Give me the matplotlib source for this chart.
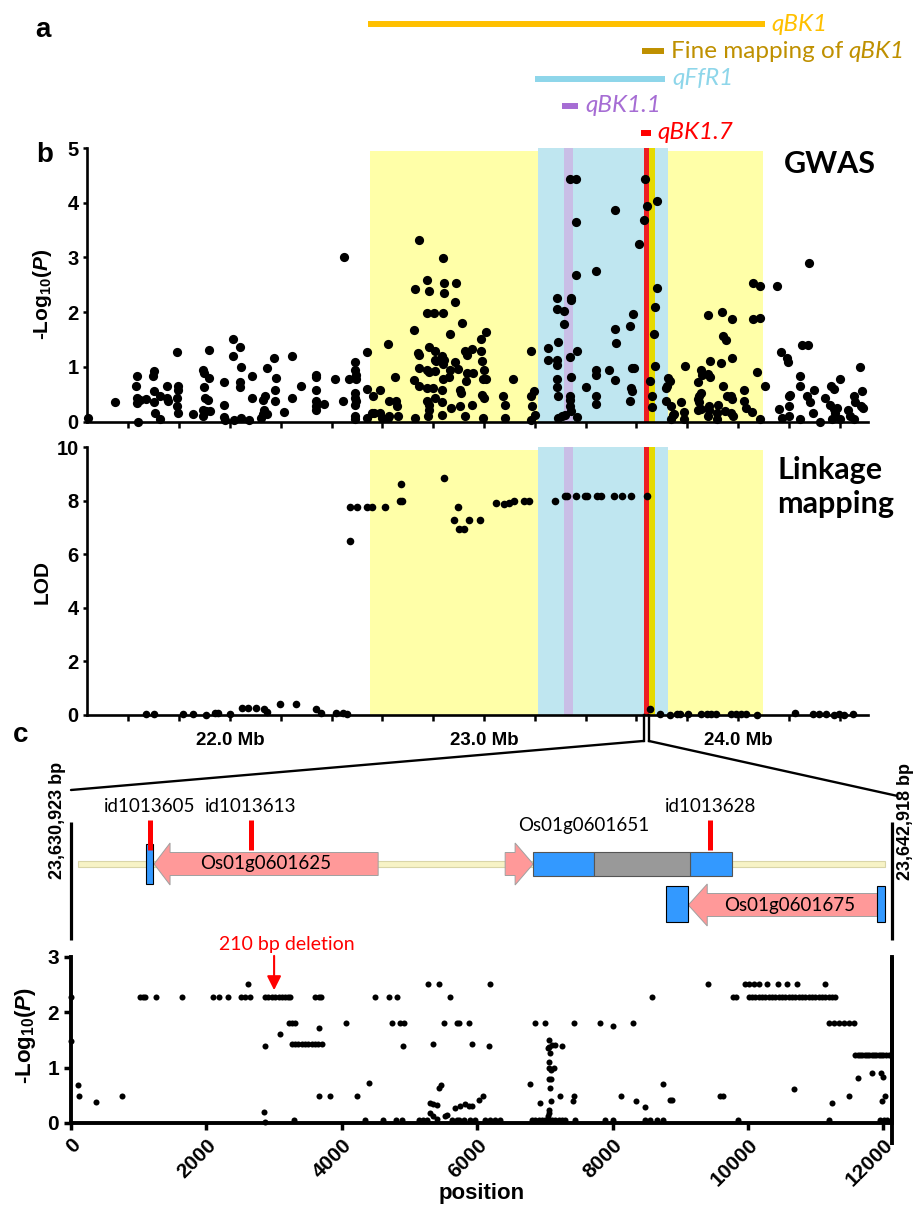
import numpy as np
import matplotlib
matplotlib.use("Agg")
import matplotlib.pyplot as plt
from matplotlib.patches import Rectangle, Polygon, ConnectionPatch

W, H = 919, 1207
plt.rcParams.update({
    "font.family": ["Liberation Sans", "DejaVu Sans"],
    "font.weight": "bold",
    "axes.labelweight": "bold",
    "mathtext.fontset": "custom",
    "mathtext.rm": "Liberation Sans:bold",
    "mathtext.it": "Liberation Sans:italic:bold",
    "mathtext.bf": "Liberation Sans:bold",
    "axes.linewidth": 1.9,
})
CAL = ["Lato", "DejaVu Sans"]

# ---------------- data ----------------
# panel a : QTL intervals (Mb)
bar_labels = ["qBK1", "qBK1", "qFfR1", "qBK1.1", "qBK1.7"]
bar_prefix = ["", "Fine mapping of", "", "", ""]
bar_start = [22.543, 23.622, 23.201, 23.307, 23.618]
bar_end = [24.106, 23.709, 23.713, 23.370, 23.657]
bar_colors = ["#FFC000", "#BF9000", "#8ED6EA", "#A66DD4", "#FF0000"]

# shaded regions in panel b (Mb)
region_names = ["qBK1", "qFfR1", "qBK1.1", "qBK1.7", "fine mapping"]
region_start = [22.553, 23.211, 23.315, 23.628, 23.649]
region_end = [24.100, 23.725, 23.352, 23.649, 23.675]
region_colors = ["#FFFFA8", "#BFE6F0", "#C9BEE6", "#EE1D23", "#E6DA00"]
region_top = [0.99, 1.0, 1.0, 1.0, 1.0]

# GWAS (Mb, -log10 P)
gwas_mb_1 = [21.439, 21.546, 21.634, 21.631, 21.634, 21.634, 21.644, 21.639, 21.668, 21.699,
             21.697, 21.701, 21.701, 21.706, 21.723, 21.723, 21.752, 21.752, 21.756, 21.791,
             21.795, 21.795, 21.791, 21.792, 21.795, 21.854, 21.893, 21.899, 21.919, 21.916,
             21.899, 21.902, 21.912, 21.895, 21.906, 21.922, 21.895, 21.976, 21.976, 21.976,
             21.979, 22.010, 22.010, 22.039, 22.044, 22.041, 22.041, 22.014, 22.043, 22.076,
             22.086, 22.086, 22.123, 22.128, 22.131, 22.139, 22.144, 22.135, 22.144, 22.174,
             22.180, 22.178, 22.178, 22.213, 22.246, 22.246, 22.278, 22.337, 22.337, 22.340,
             22.337, 22.337, 22.337, 22.370, 22.413, 22.448, 22.446, 22.468, 22.494, 22.494,
             22.498, 22.498, 22.494, 22.494, 22.498, 22.494, 22.494, 22.494, 22.540, 22.540,
             22.540, 22.559]
gwas_p_1 = [0.06, 0.355, 0.838, 0.643, 0.428, 0.337, 0.398, 0.0, 0.41, 0.918,
            0.838, 0.551, 0.355, 0.153, 0.459, 0.043, 0.655, 0.428, 0.367, 1.273,
            0.643, 0.581, 0.428, 0.275, 0.153, 0.141, 0.949, 0.887, 1.316, 0.796,
            0.63, 0.428, 0.398, 0.214, 0.184, 0.184, 0.104, 0.722, 0.306, 0.08,
            0.03, 1.5, 1.206, 1.359, 0.991, 0.716, 0.63, 0.03, 0.06, 0.03,
            0.838, 0.428, 0.06, 0.141, 0.398, 0.459, 0.973, 0.214, 0.141, 1.157,
            0.796, 0.581, 0.367, 0.165, 1.193, 0.428, 0.643, 0.857, 0.808, 0.569,
            0.367, 0.275, 0.214, 0.324, 0.777, 2.999, 0.379, 0.777, 1.083, 0.949,
            0.857, 0.777, 0.52, 0.428, 0.367, 0.306, 0.104, 0.043, 1.267, 0.594,
            0.061, 0.153]
gwas_mb_2 = [22.562, 22.592, 22.566, 22.592, 22.599, 22.622, 22.625, 22.622, 22.625, 22.648,
             22.654, 22.658, 22.661, 22.727, 22.723, 22.729, 22.745, 22.742, 22.746, 22.745,
             22.723, 22.745, 22.775, 22.782, 22.775, 22.782, 22.775, 22.782, 22.775, 22.775,
             22.782, 22.782, 22.779, 22.805, 22.808, 22.808, 22.810, 22.808, 22.801, 22.808,
             22.838, 22.841, 22.841, 22.837, 22.835, 22.841, 22.837, 22.837, 22.835, 22.835,
             22.835, 22.889, 22.884, 22.867, 22.884, 22.867, 22.863, 22.871, 22.912, 22.899,
             22.906, 22.910, 22.906, 22.925, 22.932, 22.952, 22.932, 22.928, 22.925, 22.958,
             22.954, 22.988, 23.007, 22.988, 22.993, 23.001, 22.997, 23.007, 22.993, 23.001,
             22.997, 23.076, 23.082, 23.082, 23.115, 23.187, 23.184, 23.197, 23.190, 23.200,
             23.187, 23.250, 23.250, 23.289, 23.289, 23.315, 23.315, 23.292, 23.289, 23.286,
             23.286, 23.286, 23.292, 23.292, 23.307, 23.318, 23.337, 23.363, 23.341, 23.344,
             23.363, 23.363, 23.337, 23.344, 23.337, 23.337, 23.337, 23.341, 23.367, 23.367,
             23.403, 23.441, 23.442, 23.441, 23.442, 23.441, 23.494, 23.514, 23.514, 23.520,
             23.516, 23.586, 23.576, 23.582, 23.590, 23.579, 23.582, 23.573, 23.612, 23.634,
             23.642, 23.631, 23.681, 23.681, 23.675, 23.671, 23.673, 23.655, 23.660, 23.660,
             23.725, 23.733, 23.716, 23.720, 23.716, 23.736, 23.746]
gwas_p_2 = [0.459, 0.581, 0.153, 0.153, 0.061, 0.061, 0.104, 1.42, 0.367, 0.814,
            0.367, 0.275, 0.104, 2.417, 1.671, 0.061, 3.323, 1.255, 1.224, 0.979,
            0.753, 0.655, 2.589, 2.387, 1.989, 1.365, 0.949, 0.9, 0.612, 0.367,
            0.306, 0.202, 0.092, 1.989, 1.285, 1.132, 1.102, 0.918, 0.612, 0.428,
            2.98, 2.528, 2.344, 1.989, 1.193, 1.132, 1.059, 0.777, 0.581, 0.349,
            0.122, 2.528, 2.191, 1.591, 1.089, 0.936, 0.814, 0.245, 1.805, 0.961,
            0.581, 0.52, 0.288, 1.285, 1.224, 1.328, 0.887, 0.734, 0.104, 0.887,
            0.306, 1.512, 1.634, 1.285, 1.102, 0.949, 0.777, 0.777, 0.49, 0.428,
            0.061, 0.471, 0.306, 0.061, 0.777, 1.297, 0.471, 0.551, 0.275, 0.122,
            0.031, 1.346, 1.12, 2.264, 2.05, 2.02, 1.787, 1.45, 1.12, 1.04,
            0.777, 0.63, 0.471, 0.061, 0.092, 0.122, 4.437, 4.437, 2.264, 2.215,
            3.641, 2.674, 1.181, 0.814, 0.459, 0.398, 0.275, 0.184, 1.285, 0.08,
            0.63, 2.754, 0.936, 0.857, 0.471, 0.324, 0.936, 3.868, 1.695, 1.426,
            0.753, 1.958, 1.744, 0.979, 0.979, 0.612, 0.551, 0.367, 3.244, 4.425,
            3.935, 3.69, 4.027, 2.436, 2.093, 1.603, 1.022, 0.734, 0.471, 0.257,
            0.796, 0.734, 0.612, 0.655, 0.367, 0.275, 0.122]
gwas_mb_3 = [23.749, 23.736, 23.775, 23.791, 23.788, 23.788, 23.841, 23.847, 23.854, 23.860,
             23.856, 23.841, 23.847, 23.841, 23.854, 23.882, 23.882, 23.890, 23.890, 23.886,
             23.886, 23.880, 23.922, 23.919, 23.916, 23.937, 23.935, 23.939, 23.942, 23.952,
             23.948, 23.956, 23.971, 23.978, 23.978, 23.978, 23.974, 23.982, 24.024, 24.024,
             24.030, 24.056, 24.060, 24.085, 24.060, 24.086, 24.076, 24.086, 24.108, 24.154,
             24.161, 24.170, 24.191, 24.197, 24.174, 24.200, 24.200, 24.204, 24.200, 24.246,
             24.246, 24.252, 24.275, 24.278, 24.272, 24.285, 24.298, 24.295, 24.246, 24.322,
             24.344, 24.366, 24.376, 24.361, 24.376, 24.390, 24.383, 24.370, 24.403, 24.403,
             24.435, 24.439, 24.455, 24.462, 24.455, 24.481, 24.488, 24.484, 24.492]
gwas_p_3 = [0.141, 0.043, 0.349, 1.022, 0.165, 0.043, 0.716, 0.459, 0.949, 0.857,
            0.52, 0.41, 0.349, 0.202, 0.226, 1.94, 0.875, 0.814, 1.114, 0.275,
            0.214, 0.092, 0.306, 0.043, 0.153, 2.001, 1.071, 0.655, 1.561, 1.499,
            0.184, 0.471, 0.459, 1.867, 1.163, 0.41, 0.153, 0.092, 0.569, 0.367,
            0.245, 0.165, 2.528, 2.479, 1.867, 1.897, 0.906, 0.043, 0.643, 2.479,
            0.226, 1.267, 1.163, 1.083, 0.061, 0.092, 0.471, 0.49, 0.288, 0.838,
            0.655, 1.395, 1.395, 2.889, 0.471, 0.349, 0.569, 0.153, 0.043, 0.0,
            0.428, 0.655, 0.594, 0.306, 0.226, 0.245, 0.153, 0.043, 0.043, 0.777,
            0.214, 0.092, 0.459, 0.349, 0.043, 0.991, 0.551, 0.275, 0.245]

# Linkage mapping (Mb, LOD)
lod_mb = [21.671, 21.702, 21.814, 21.856, 21.906, 21.941, 21.954, 22.000, 22.046, 22.072,
          22.102, 22.133, 22.146, 22.196, 22.261, 22.340, 22.359, 22.418, 22.444, 22.460,
          22.471, 22.473, 22.499, 22.539, 22.559, 22.612, 22.669, 22.677, 22.675, 22.843,
          22.898, 22.882, 22.902, 22.922, 22.939, 22.983,
          23.046, 23.078, 23.098, 23.118, 23.157, 23.176, 23.281, 23.318, 23.327, 23.362,
          23.396, 23.405, 23.444, 23.461, 23.510, 23.542, 23.579, 23.641, 23.654, 23.693,
          23.732, 23.758, 23.771, 23.804, 23.856, 23.876, 23.895, 23.915, 23.974, 23.993,
          24.013, 24.033, 24.076, 24.225, 24.294, 24.320, 24.346, 24.379, 24.399, 24.418,
          24.451]
lod_val = [0.04, 0.04, 0.04, 0.04, 0.0, 0.06, 0.06, 0.04, 0.25, 0.25,
           0.25, 0.21, 0.12, 0.40, 0.40, 0.22, 0.06, 0.06, 0.06, 0.04,
           6.51, 7.76, 7.76, 7.76, 7.76, 7.76, 8.01, 8.01, 8.62, 8.84,
           7.78, 7.29, 6.95, 6.95, 7.29, 7.29,
           7.91, 7.88, 7.93, 8.00, 8.00, 8.00, 8.00, 8.18, 8.18, 8.18,
           8.18, 8.18, 8.18, 8.18, 8.18, 8.18, 8.18, 8.18, 0.21, 0.04,
           0.0, 0.04, 0.04, 0.04, 0.04, 0.04, 0.04, 0.04, 0.04, 0.04,
           0.04, 0.04, 0.0, 0.06, 0.04, 0.04, 0.04, 0.0, 0.04, 0.0,
           0.04]

# panel c association (bp position, -log10 P)
pos_1 = [0, 0, 98, 123, 374, 753, 1023, 1063, 1097, 1260,
         1638, 2091, 2180, 2312, 2509, 2573, 2647, 2608, 2868, 2917,
         2966, 3015, 3065, 3114, 3163, 3212, 3237, 2868, 2844, 2868,
         3090, 3213, 3262, 3311, 3262, 3311, 3360, 3409, 3458, 3508,
         3557, 3606, 3655, 3705, 3287, 3606, 3656, 3690, 3670, 3670,
         3828, 4064, 4231, 4344, 4408, 4492, 4605, 4704, 4822, 4738,
         4861, 4920, 4802, 4885, 4900, 5146, 5196, 5255, 5269, 5442,
         5353, 5304, 5353, 5402, 5442, 5461, 5304, 5353, 5402, 5525,
         5560, 5599, 5510, 5697, 5673, 5624, 5697]
p_1 = [2.27, 1.49, 0.69, 0.48, 0.38, 0.48, 2.27, 2.27, 2.27, 2.27,
       2.27, 2.27, 2.27, 2.27, 2.27, 2.27, 2.27, 2.52, 2.27, 2.27,
       2.27, 2.27, 2.27, 2.27, 2.27, 2.27, 2.27, 1.40, 0.20, 0.02,
       1.61, 1.81, 1.81, 1.81, 1.43, 1.43, 1.43, 1.43, 1.43, 1.43,
       1.43, 1.43, 1.43, 1.43, 0.06, 2.27, 2.27, 2.27, 1.71, 0.48,
       0.48, 1.81, 0.48, 0.06, 0.72, 2.27, 0.06, 2.27, 2.27, 1.81,
       1.81, 1.81, 0.06, 0.06, 1.40, 0.06, 0.06, 0.06, 2.52, 2.52,
       1.43, 0.36, 0.35, 0.33, 0.63, 0.69, 0.18, 0.12, 0.07, 0.12,
       0.15, 2.27, 1.81, 1.81, 0.28, 0.06, 0.06]
pos_2 = [5724, 5872, 5921, 6192, 6177, 5749, 5823, 5872, 5921, 6020,
         6079, 5724, 5798, 5897, 5970, 6118, 6192, 6266, 6340, 6847,
         6995, 7424, 7818, 8000, 8296, 8581, 9409, 9773, 9823, 9961,
         10020, 10084, 10158, 10281, 10443, 10576, 10724, 11143, 11626, 11832,
         11970, 11990, 11488, 11241, 10675, 9591, 9626, 8739, 8852, 8877,
         8128, 8345, 8483, 7424, 7409, 7227, 6931, 6783, 7054, 7064,
         7104, 7153, 7251, 7044, 7079, 7054, 7064, 7128, 7094, 7054,
         7094, 7079, 7094, 7064, 7054, 7044, 6808, 6857, 6906, 6955,
         7005, 7054, 7103, 7153, 7202, 7251, 7300, 7449, 7892, 8000,
         8483, 8557, 8655, 8739, 9852, 11202, 11955, 12005, 12054, 12020,
         11980]
p_2 = [1.81, 1.81, 1.43, 2.52, 1.40, 0.30, 0.35, 0.30, 0.30, 0.41,
       0.48, 0.06, 0.06, 0.06, 0.06, 0.06, 0.06, 0.06, 0.06, 1.81,
       1.81, 1.81, 1.81, 1.75, 1.81, 2.27, 2.52, 2.27, 2.27, 2.52,
       2.52, 2.52, 2.52, 2.52, 2.52, 2.52, 2.52, 2.52, 0.81, 0.91,
       0.91, 0.83, 0.48, 0.37, 0.61, 0.48, 0.48, 0.71, 0.42, 0.42,
       0.48, 0.39, 0.29, 0.48, 0.39, 0.48, 0.36, 0.71, 1.50, 1.38,
       1.41, 1.41, 1.40, 1.35, 1.27, 1.11, 0.99, 0.99, 0.95, 0.79,
       0.79, 0.63, 0.39, 0.24, 0.18, 0.12, 0.06, 0.06, 0.06, 0.06,
       0.06, 0.06, 0.06, 0.06, 0.06, 0.06, 0.06, 0.06, 0.06, 0.06,
       0.06, 0.06, 0.06, 0.06, 0.06, 0.06, 0.06, 0.06, 0.06, 0.48,
       0.39]
pos_3 = [10010, 10059, 10108, 10158, 10207, 10256, 10305, 10355, 10404, 10453,
         10502, 10552, 10601, 10650, 10699, 10749, 10798, 10847, 10896, 10946,
         10995, 11044, 11093, 11143, 11192, 11241, 11290]
p_3 = [2.27] * 27
pos_4 = [11192, 11266, 11340, 11414, 11488, 11561]
p_4 = [1.81] * 6
pos_5 = [11586, 11620, 11655, 11689, 11724, 11758, 11793, 11827, 11862, 11896,
         11931, 11965, 12000, 12034, 12079]
p_5 = [1.23] * 15

# gene models (bp from 23,630,923)
gene_names = ["Os01g0601625", "Os01g0601651", "Os01g0601675"]
gene_tail = [4537, 6413, 11911]
gene_tip = [1227, 6827, 9118]
gene_track = [0, 0, 1]
exon_start = [1108, 6827, 9147, 8793, 11911]
exon_end = [1212, 7729, 9768, 9118, 12029]
exon_track = [0, 0, 0, 1, 1]
grey_start, grey_end = 7729, 9147
snp_names = ["id1013605", "id1013613", "id1013628"]
snp_pos = [1167, 2660, 9443]
deletion_pos = 3000
backbone = (103, 12029)
region_bp_labels = ["23,630,923 bp", "23,642,918 bp"]

# ---------------- figure ----------------
fig = plt.figure(figsize=(W / 100, H / 100), dpi=100)


def add_ax(l, t, r, b):
    return fig.add_axes([l / W, 1 - b / H, (r - l) / W, (b - t) / H])


MB_LIM = (21.437, 24.51)
mb_l = 230 - (22 - MB_LIM[0]) * 254
mb_r = mb_l + (MB_LIM[1] - MB_LIM[0]) * 254
BP_LIM = (0, 12120)
bp_l = 71
bp_r = bp_l + BP_LIM[1] * 0.0677

ax_a = add_ax(mb_l, 10.4, mb_r, 146.6)
ax_g = add_ax(mb_l, 148, mb_r, 421.5)
ax_l = add_ax(mb_l, 447.3, mb_r, 715)
ax_gene = add_ax(bp_l, 760, bp_r, 945)
ax_s = add_ax(bp_l, 957, bp_r, 1123)

# ---- panel a
ax_a.set_xlim(MB_LIM)
ax_a.set_ylim(4.5, -0.5)
ax_a.axis("off")
for i, (s, e, c, lab, pre) in enumerate(zip(bar_start, bar_end, bar_colors, bar_labels, bar_prefix)):
    ax_a.hlines(i, s, e, color=c, lw=4.3)
    if pre:
        t1 = ax_a.annotate(pre, xy=(e, i), xytext=(5, 0), textcoords="offset points",
                           va="center", ha="left", color=c, family=CAL, weight="normal",
                           fontsize=17.5)
        ax_a.annotate(lab, xy=(1, 0), xycoords=t1, xytext=(4, 0), textcoords="offset points",
                      va="bottom", ha="left", color=c, family=CAL, weight="normal",
                      style="italic", fontsize=17.5)
    else:
        ax_a.annotate(lab, xy=(e, i), xytext=(5, 0), textcoords="offset points",
                      va="center", ha="left", color=c, family=CAL, weight="normal",
                      style="italic", fontsize=17.5)

# ---- panel b
ticks_mb = np.round(np.arange(21.6, 24.41, 0.2), 1)
for ax in (ax_g, ax_l):
    ax.set_xlim(MB_LIM)
    for s, e, c, top in zip(region_start, region_end, region_colors, region_top):
        ax.axvspan(s, e, ymin=0, ymax=top, color=c, lw=0, zorder=0)
    ax.spines[["top", "right"]].set_visible(False)
    ax.set_xticks(ticks_mb)
    ax.tick_params(axis="x", direction="out", length=4, width=1.8, labelsize=13.5, pad=8)
    ax.tick_params(axis="y", direction="out", length=3, width=1.8, labelsize=14.5, pad=3)

ax_g.set_ylim(0, 5)
ax_g.set_yticks(range(6))
ax_g.set_xticklabels([])
ax_g.scatter(gwas_mb_1 + gwas_mb_2 + gwas_mb_3, gwas_p_1 + gwas_p_2 + gwas_p_3,
             s=44, c="k", lw=0, zorder=3, clip_on=False)

ax_l.set_ylim(0, 10)
ax_l.set_yticks(range(0, 11, 2))
ax_l.set_xticklabels([f"{t:.1f} Mb" if abs(t - round(t)) < 1e-6 else "" for t in ticks_mb])
ax_l.scatter(lod_mb, lod_val, s=30, c="k", lw=0, zorder=3, clip_on=False)

fig.text(42 / W, 1 - 294 / H, r"-Log$_{10}$($P$)", rotation=90, ha="center", va="center", fontsize=15)
fig.text(42 / W, 1 - 582 / H, "LOD", rotation=90, ha="center", va="center", fontsize=15)
fig.text(784 / W, 1 - 164 / H, "GWAS", ha="left", va="center", family=CAL, fontsize=22)
fig.text(777 / W, 1 - 487 / H, "Linkage\nmapping", ha="left", va="center", family=CAL,
         fontsize=22, linespacing=1.25)

fig.text(43 / W, 1 - 30 / H, "a", ha="center", va="center", fontsize=20)
fig.text(45 / W, 1 - 155 / H, "b", ha="center", va="center", fontsize=20)
fig.text(21 / W, 1 - 735 / H, "c", ha="center", va="center", fontsize=20)

# ---- zoom lines
zx1, zx2 = region_start[3], region_end[3]
for x in (zx1, zx2):
    ax_l.plot([x, x], [0, -0.97], color="k", lw=1.7, clip_on=False, zorder=4)
fig.add_artist(ConnectionPatch(xyA=(zx1, -0.97), coordsA=ax_l.transData,
                               xyB=(BP_LIM[0], 30), coordsB=ax_gene.transData, color="k", lw=1.7))
fig.add_artist(ConnectionPatch(xyA=(zx2, -0.97), coordsA=ax_l.transData,
                               xyB=(BP_LIM[1] + 90, 36), coordsB=ax_gene.transData, color="k", lw=1.7))

# ---- gene structure
ax_gene.set_xlim(BP_LIM)
ax_gene.set_ylim(185, 0)
ax_gene.axis("off")
TRACK_Y = [104, 144]
ax_gene.add_patch(Rectangle((backbone[0], TRACK_Y[0] - 3), backbone[1] - backbone[0], 6,
                            fc="#F7F3C6", ec="#D9D5A8", lw=0.8, zorder=1))


def arrow_poly(tail, tip, yc, bh, hh, hl):
    d = np.sign(tip - tail)
    hb = tip - d * hl
    return [(tail, yc - bh), (hb, yc - bh), (hb, yc - hh), (tip, yc),
            (hb, yc + hh), (hb, yc + bh), (tail, yc + bh)]


head_len = [236, 267, 280]
for name, tail, tip, tr, hl in zip(gene_names, gene_tail, gene_tip, gene_track, head_len):
    yc = TRACK_Y[tr] + (1 if tr else 0)
    ax_gene.add_patch(Polygon(arrow_poly(tail, tip, yc, 11.5, 21, hl), closed=True,
                              fc="#FF9999", ec="#A0A0A0", lw=0.7, zorder=2))
for s, e, tr in zip(exon_start, exon_end, exon_track):
    wide = (e - s) > 400
    half = 12 if (tr == 0 and wide) else (20 if tr == 0 else 18)
    ax_gene.add_patch(Rectangle((s, TRACK_Y[tr] - half), e - s, 2 * half, fc="#3399FF",
                                ec="#555555" if wide else "k", lw=0.8, zorder=3))
ax_gene.add_patch(Rectangle((grey_start, TRACK_Y[0] - 12), grey_end - grey_start, 24,
                            fc="#999999", ec="#555555", lw=0.8, zorder=3))
for name, x in zip(snp_names, snp_pos):
    ax_gene.vlines(x, 60, 90, color="#FF0000", lw=3.6, zorder=4)
    ax_gene.text(x, 47, name, ha="center", va="center", family=CAL, weight="normal", fontsize=13.5)

ax_gene.text((gene_tail[0] + gene_tip[0]) / 2, TRACK_Y[0], gene_names[0], ha="center", va="center",
             family=CAL, weight="normal", fontsize=13.5, zorder=5)
ax_gene.text(gene_tail[1] + 190, 65, gene_names[1], ha="left", va="center",
             family=CAL, weight="normal", fontsize=13.5)
ax_gene.text((gene_tail[2] + gene_tip[2]) / 2 + 100, TRACK_Y[1] + 1, gene_names[2], ha="center",
             va="center", family=CAL, weight="normal", fontsize=13.5, zorder=5)
ax_gene.vlines(BP_LIM, 62, 180, color="k", lw=2.3, clip_on=False)
fig.text(57 / W, 1 - 820 / H, region_bp_labels[0], rotation=90, ha="center", va="center", fontsize=13)
fig.text(906 / W, 1 - 822 / H, region_bp_labels[1], rotation=90, ha="center", va="center", fontsize=13)

# ---- association scatter
ax_s.set_xlim(BP_LIM)
ax_s.set_ylim(0, 3)
ax_s.spines["top"].set_visible(False)
for sp in ax_s.spines.values():
    sp.set_linewidth(2.8)
ax_s.plot([1, 1], [1, -22 / 166], transform=ax_s.transAxes, color="k", lw=2.8,
          clip_on=False, solid_capstyle="butt")
ax_s.scatter(pos_1 + pos_2 + pos_3 + pos_4 + pos_5, p_1 + p_2 + p_3 + p_4 + p_5,
             s=19, c="k", lw=0, zorder=3, clip_on=False)
ax_s.set_xticks(range(0, 12001, 2000))
ax_s.set_yticks(range(4))
ax_s.tick_params(axis="both", direction="out", length=5, width=2.5, labelsize=15)
ax_s.tick_params(axis="x", pad=4)
plt.setp(ax_s.get_xticklabels(), rotation=45, ha="right", va="top", rotation_mode="anchor")
ax_s.set_xlabel("position", fontsize=16, fontweight="bold")
ax_s.xaxis.set_label_coords(0.5, -0.36)
fig.text(25 / W, 1 - 1036 / H, r"-Log$_{10}$($P$)", rotation=90, ha="center", va="center", fontsize=16)

ax_s.annotate("", xy=(deletion_pos, 2.40), xytext=(deletion_pos, 3.02),
              arrowprops=dict(arrowstyle="-|>,head_length=0.6,head_width=0.3", color="red",
                              lw=1.5, mutation_scale=14, shrinkA=0, shrinkB=0),
              annotation_clip=False)
ax_s.annotate("210 bp deletion", xy=(deletion_pos, 3.22), xytext=(9, 0), textcoords="offset points",
              ha="center", va="center", color="red", family=CAL, weight="normal", fontsize=14,
              annotation_clip=False)

fig.savefig("out.png", dpi=100)
